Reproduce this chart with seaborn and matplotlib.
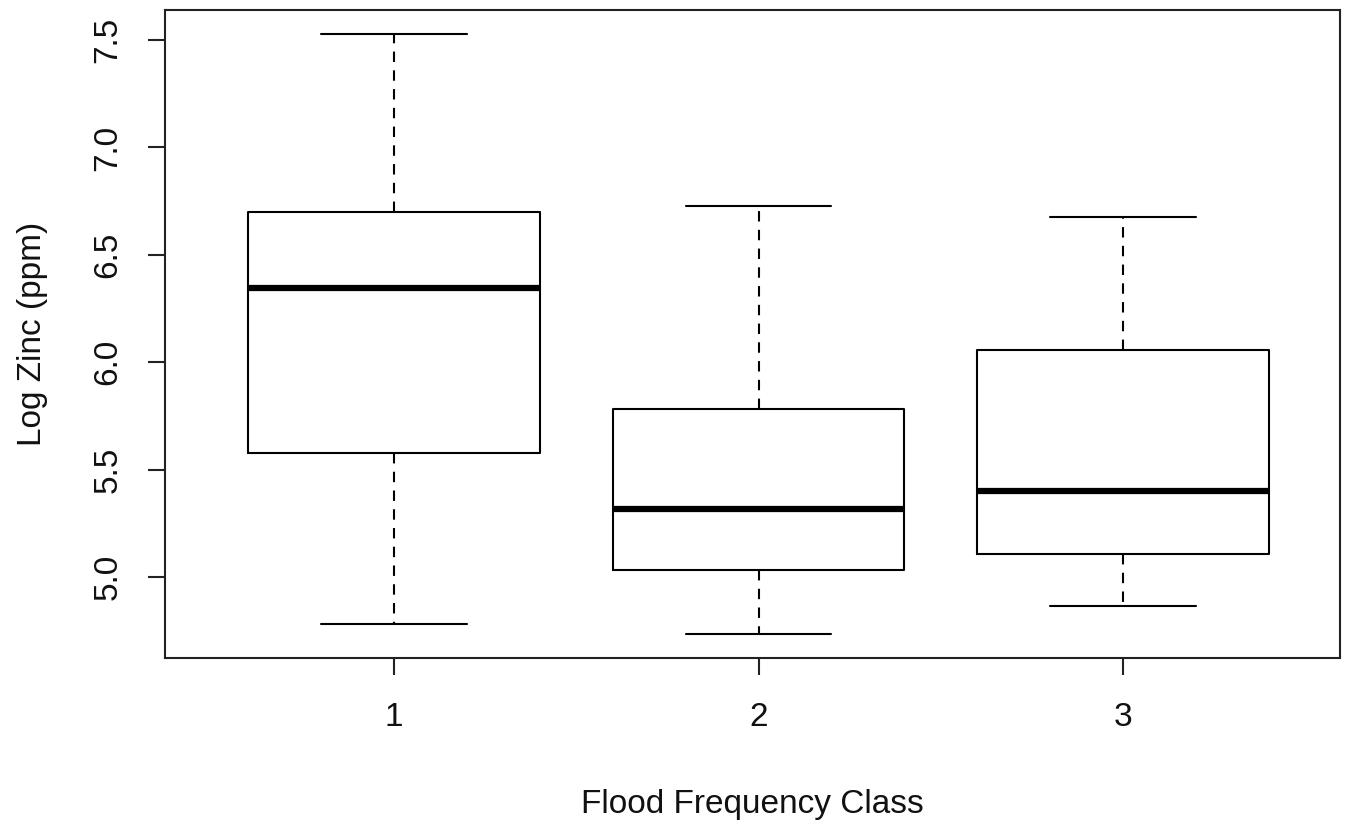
import matplotlib
matplotlib.use("Agg")
import matplotlib.pyplot as plt
import numpy as np
import pandas as pd
import seaborn as sns

# Five-number summaries of log zinc (ppm) per flood frequency class:
# minimum, lower quartile, median, upper quartile, maximum
flood_classes = ["1", "2", "3"]
class_1 = [4.780, 5.577, 6.345, 6.699, 7.528]
class_2 = [4.735, 5.033, 5.317, 5.782, 6.727]
class_3 = [4.865, 5.107, 5.400, 6.057, 6.676]
y_ticks = [5.0, 5.5, 6.0, 6.5, 7.0, 7.5]

df = pd.DataFrame({
    "ffreq": np.repeat(flood_classes, 5),
    "log_zinc": class_1 + class_2 + class_3,
})

sns.set_style("ticks")
plt.rcParams["font.family"] = ["Liberation Sans", "DejaVu Sans"]

fig = plt.figure(figsize=(13.54, 8.23), dpi=100)
ax = fig.add_axes([0.1219, 0.2005, 0.8678, 0.7873])

sns.boxplot(
    data=df, x="ffreq", y="log_zinc", order=flood_classes,
    whis=(0, 100), width=0.8, fill=False, linecolor="black",
    linewidth=1.5, ax=ax,
    medianprops=dict(linewidth=4.5, color="black"),
    whiskerprops=dict(linestyle=(0, (5, 4)), color="black"),
    capprops=dict(color="black"),
    boxprops=dict(color="black"),
)

ax.set_xlim(-0.628, 2.595)
ax.set_ylim(4.623, 7.640)
ax.set_yticks(y_ticks)
ax.set_yticklabels([f"{t:.1f}" for t in y_ticks], rotation=90, va="center")

for side in ["top", "right", "left", "bottom"]:
    ax.spines[side].set_visible(True)
    ax.spines[side].set_linewidth(1.5)
    ax.spines[side].set_color("#222222")

ax.tick_params(axis="both", length=12, width=1.5, color="#222222",
               labelsize=24, labelcolor="#111111")
ax.tick_params(axis="y", pad=18)
ax.tick_params(axis="x", pad=20)

ax.set_xlabel("Flood Frequency Class", fontsize=24, color="#111111", labelpad=40)
ax.set_ylabel("Log Zinc (ppm)", fontsize=24, color="#111111", labelpad=32)

fig.savefig("out.png", dpi=100, facecolor="white")
